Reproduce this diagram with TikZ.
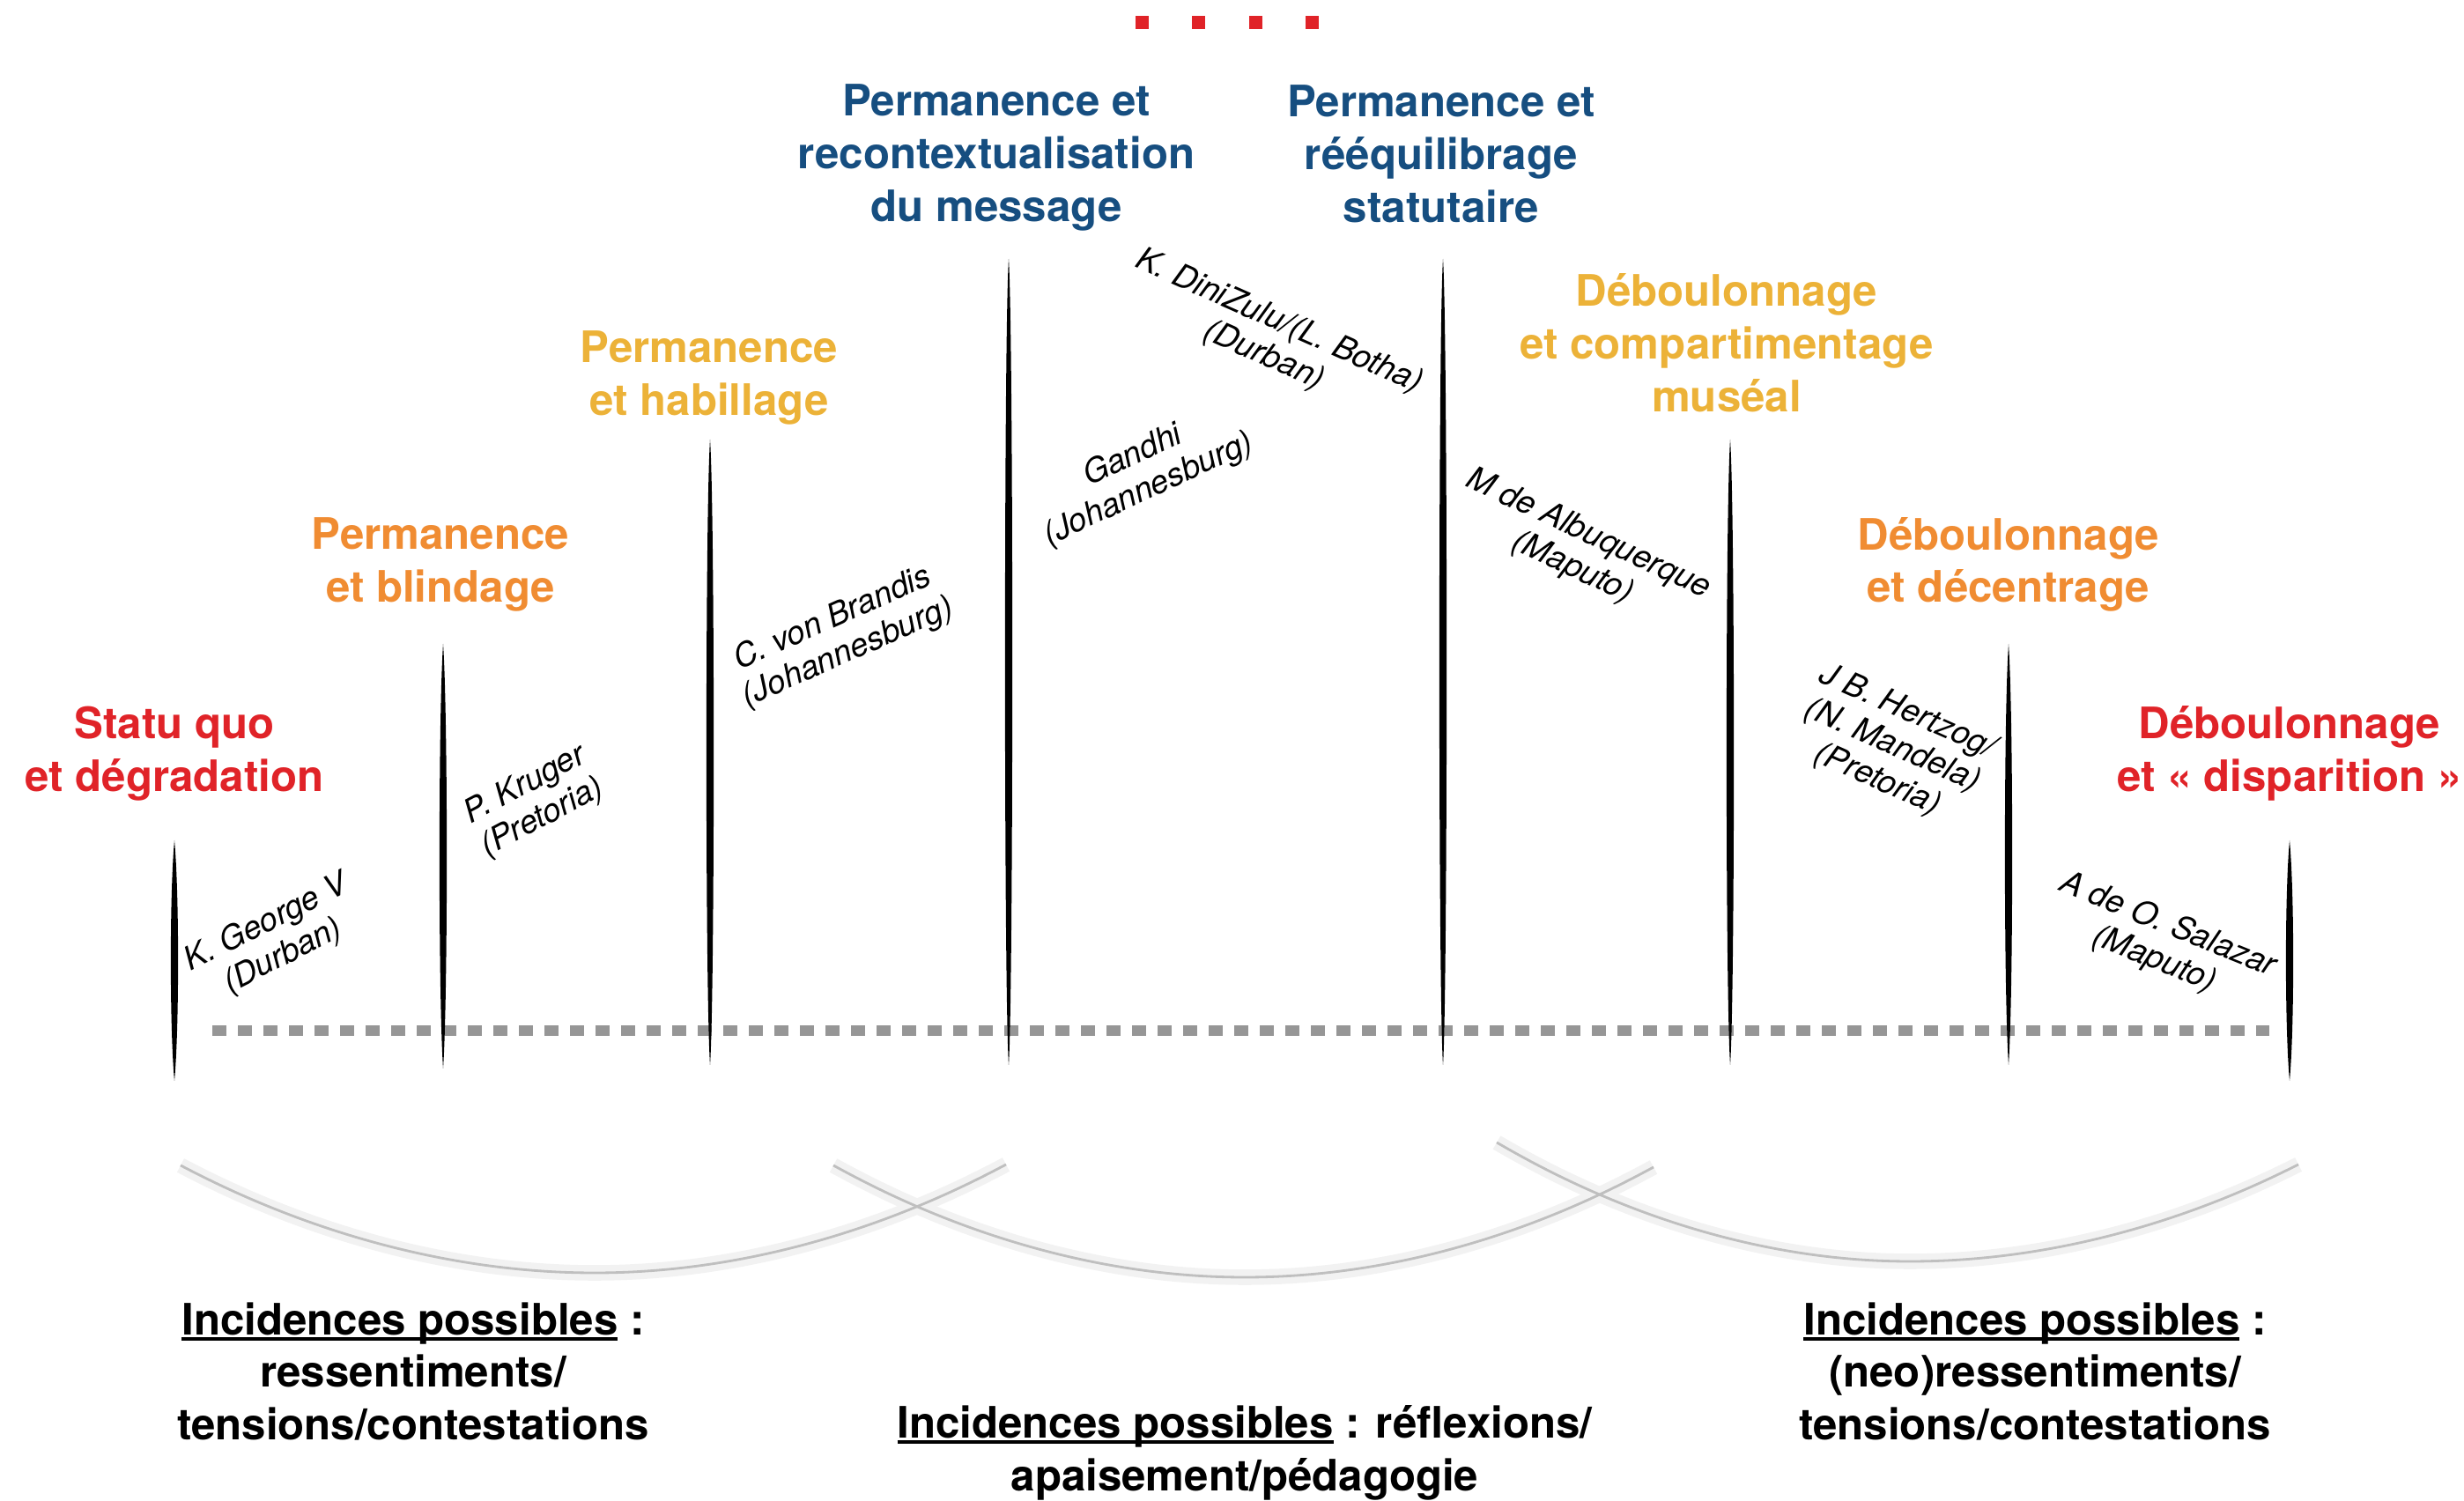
\documentclass[tikz,border=0pt]{standalone}
\usepackage{fontspec}
\setmainfont{TeX Gyre Heros}
\usepackage{tikz}

\newcommand{\ulword}[1]{\setbox0=\hbox{#1}\rlap{\rule[-1.8pt]{\wd0}{0.9pt}}\box0\relax}

\definecolor{stred}{RGB}{224,35,40}
\definecolor{storange}{RGB}{240,140,50}
\definecolor{styellow}{RGB}{236,178,56}
\definecolor{stblue}{RGB}{22,78,128}
\definecolor{dotgray}{RGB}{150,150,150}

\begin{document}
\begin{tikzpicture}[
        stage/.style = {
            font = \bfseries\fontsize{14}{17}\selectfont,
            align = center,
            inner sep = 0pt
        },
        statue/.style = {
            font = \itshape\fontsize{10.5}{12}\selectfont,
            align = center,
            inner sep = 0pt,
            rotate = #1
        },
        statue/.default = 25,
        post/.style = {fill = black},
        trail/.style = {
            dotgray,
            line width = 3.4pt,
            dash pattern = on 0.16cm off 0.13cm
        },
        glow/.style = {gray!10, line width = 5pt},
        swing/.style = {gray!50, line width = 0.8pt}
        ]
        \useasboundingbox (0,0) rectangle (27.97,17.03);
%
        \fill[stred] (12.89,16.70) rectangle +(0.15,0.15);
        \fill[stred] (13.53,16.70) rectangle +(0.15,0.15);
        \fill[stred] (14.18,16.70) rectangle +(0.15,0.15);
        \fill[stred] (14.82,16.70) rectangle +(0.15,0.15);
%
        \node[stage, stred] (S1) at (1.98,8.47) {Statu quo\\et dégradation};
        \node[stage, storange] (S2) at (5.00,10.62) {Permanence\\et blindage};
        \node[stage, styellow] (S3) at (8.05,12.74) {Permanence\\et habillage};
        \node[stage, stblue] (S4) at (11.31,15.24) {Permanence et\\recontextualisation\\du message};
        \node[stage, stblue] (S5) at (16.36,15.28) {Permanence et\\rééquilibrage\\statutaire};
        \node[stage, styellow] (S6) at (19.60,13.14) {Déboulonnage\\et compartimentage\\muséal};
        \node[stage, storange] (S7) at (22.80,10.62) {Déboulonnage\\et décentrage};
        \node[stage, stred] (S8) at (25.99,8.48) {Déboulonnage\\et «~disparition~»};
%
        \coordinate (d1) at (2.41,5.33);
        \coordinate (d2) at (25.76,5.33);
        \draw[trail] (d1) -- (d2);
%
        \coordinate (t1) at (1.98,7.49);   \coordinate (b1) at (1.98,4.76);
        \coordinate (t2) at (5.03,9.72);   \coordinate (b2) at (5.03,4.90);
        \coordinate (t3) at (8.06,12.04);  \coordinate (b3) at (8.06,4.94);
        \coordinate (t4) at (11.45,14.09); \coordinate (b4) at (11.45,4.94);
        \coordinate (t5) at (16.38,14.09); \coordinate (b5) at (16.38,4.94);
        \coordinate (t6) at (19.64,12.04); \coordinate (b6) at (19.64,4.94);
        \coordinate (t7) at (22.80,9.72);  \coordinate (b7) at (22.80,4.94);
        \coordinate (t8) at (25.99,7.49);  \coordinate (b8) at (25.99,4.76);
%
        \fill[post] (t1) .. controls +(0.055,-0.6) and +(0.055,0.6) .. (b1) .. controls +(-0.055,0.6) and +(-0.055,-0.6) .. (t1);
        \fill[post] (t2) .. controls +(0.055,-0.8) and +(0.055,0.8) .. (b2) .. controls +(-0.055,0.8) and +(-0.055,-0.8) .. (t2);
        \fill[post] (t3) .. controls +(0.055,-0.8) and +(0.055,0.8) .. (b3) .. controls +(-0.055,0.8) and +(-0.055,-0.8) .. (t3);
        \fill[post] (t4) .. controls +(0.055,-0.8) and +(0.055,0.8) .. (b4) .. controls +(-0.055,0.8) and +(-0.055,-0.8) .. (t4);
        \fill[post] (t5) .. controls +(0.055,-0.8) and +(0.055,0.8) .. (b5) .. controls +(-0.055,0.8) and +(-0.055,-0.8) .. (t5);
        \fill[post] (t6) .. controls +(0.055,-0.8) and +(0.055,0.8) .. (b6) .. controls +(-0.055,0.8) and +(-0.055,-0.8) .. (t6);
        \fill[post] (t7) .. controls +(0.055,-0.8) and +(0.055,0.8) .. (b7) .. controls +(-0.055,0.8) and +(-0.055,-0.8) .. (t7);
        \fill[post] (t8) .. controls +(0.055,-0.6) and +(0.055,0.6) .. (b8) .. controls +(-0.055,0.6) and +(-0.055,-0.6) .. (t8);
%
        \node[statue=27] (n1) at (3.12,6.36) {K. George V\\(Durban)};
        \node[statue=28] (n2) at (6.06,7.93) {P. Kruger\\(Pretoria)};
        \node[statue=24] (n3) at (9.54,9.81) {C. von Brandis\\(Johannesburg)};
        \node[statue=25] (n4) at (12.95,11.66) {Gandhi\\(Johannesburg)};
        \node[statue=-24] (n5) at (14.43,13.18) {K. DiniZulu/(L. Botha)\\(Durban)};
        \node[statue=-25] (n6) at (17.94,10.77) {M de Albuquerque\\(Maputo)};
        \node[statue=-24] (n7) at (21.48,8.56) {J B. Hertzog/\\(N. Mandela)\\(Pretoria)};
        \node[statue=-22] (n8) at (24.53,6.33) {A de O. Salazar\\(Maputo)};
%
        \coordinate (a1) at (2.05,3.80);  \coordinate (m1) at (6.75,2.58);  \coordinate (c1) at (11.42,3.81);
        \coordinate (a2) at (9.46,3.80);  \coordinate (m2) at (14.13,2.53); \coordinate (c2) at (18.77,3.78);
        \coordinate (a3) at (16.99,4.06); \coordinate (m3) at (21.68,2.71); \coordinate (c3) at (26.09,3.81);
%
        \draw[glow] (a1) parabola bend (m1) (c1);
        \draw[glow] (a2) parabola bend (m2) (c2);
        \draw[glow] (a3) parabola bend (m3) (c3);
        \draw[swing] (a1) parabola bend (m1) (c1);
        \draw[swing] (a2) parabola bend (m2) (c2);
        \draw[swing] (a3) parabola bend (m3) (c3);
%
        \node[stage] (E1) at (4.69,1.46) {\ulword{Incidences possibles} :\\ressentiments/\\tensions/contestations};
        \node[stage] (E2) at (14.13,0.54) {\ulword{Incidences possibles} : réflexions/\\apaisement/pédagogie};
        \node[stage] (E3) at (23.10,1.46) {\ulword{Incidences possibles} :\\(neo)ressentiments/\\tensions/contestations};
%
    \end{tikzpicture}
\end{document}
